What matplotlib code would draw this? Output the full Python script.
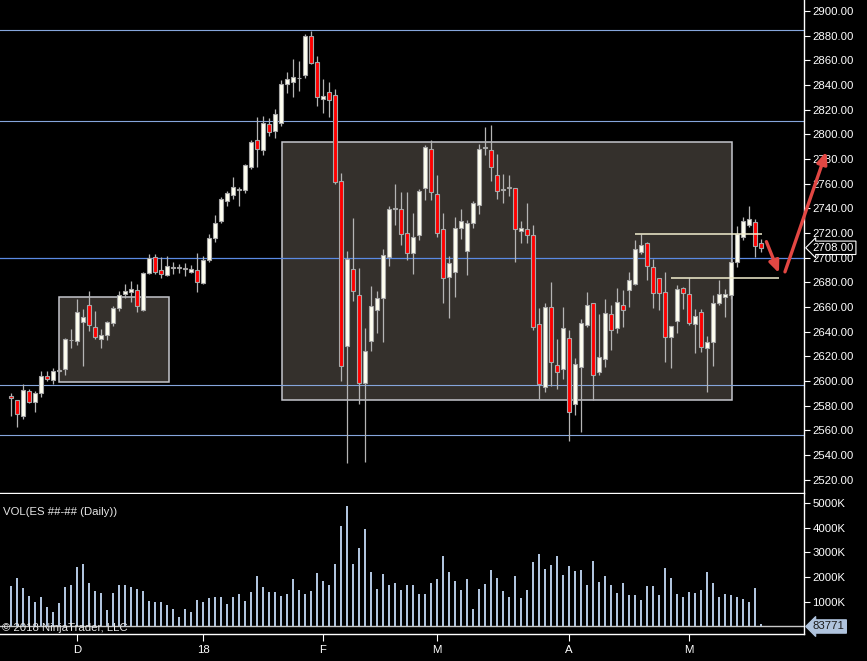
import numpy as np
import matplotlib
matplotlib.use("Agg")
import matplotlib.pyplot as plt
from matplotlib.patches import Rectangle
from matplotlib.transforms import blended_transform_factory

plt.rcParams['font.family'] = ['Liberation Sans', 'DejaVu Sans']

# daily ES bars (Nov 2017 - May 2018)
opens = [2587.75, 2584.25, 2572, 2591.5, 2583.25, 2590, 2604, 2600.5, 2608.5, 2610,
         2633, 2632.75, 2648, 2662, 2643.5, 2634.25, 2637.5, 2647.25, 2659.5, 2670.75,
         2672.5, 2673.75, 2657.5, 2687.75, 2700.25, 2689.75, 2686.25, 2691.75, 2691.75, 2692,
         2688.5, 2689.75, 2679.75, 2698.5, 2715.75, 2730, 2746.25, 2751, 2755, 2755,
         2773.75, 2795, 2787.5, 2808, 2802.5, 2809, 2840.5, 2842.25, 2845.5, 2847.75,
         2879.5, 2858.5, 2828.5, 2834, 2831.5, 2762, 2628.5, 2690.5, 2669.5, 2598.5,
         2632.75, 2657.75, 2667.5, 2700.25, 2739.5, 2739.25, 2719.75, 2703.5, 2718, 2756.25,
         2788.5, 2751.25, 2723, 2684, 2688, 2723.75, 2705, 2728.5, 2742.5, 2789,
         2787, 2766.75, 2755, 2757.5, 2756.25, 2721.25, 2723, 2718, 2646, 2595,
         2659.75, 2612.75, 2609.5, 2634.5, 2581, 2611.5, 2645.25, 2663, 2607, 2617.5,
         2654, 2642.75, 2661.5, 2673.5, 2679, 2704.5, 2711.5, 2692.25, 2683.25, 2672,
         2635.5, 2648.5, 2675.25, 2670.25, 2646, 2655.75, 2626.5, 2631.5, 2663, 2668,
         2669.5, 2696.25, 2716.5, 2726.75, 2728.75, 2711.5]
highs = [2590, 2585, 2597.5, 2593.5, 2591.5, 2608, 2608, 2610.5, 2610.5, 2635,
         2642, 2666.5, 2658.5, 2673, 2656.75, 2642, 2648.5, 2660.75, 2673, 2678.5,
         2681, 2678.5, 2688.25, 2703, 2703, 2700.5, 2701.25, 2696.5, 2694.75, 2696,
         2694, 2703.75, 2701.25, 2719, 2734.25, 2749.25, 2754, 2765.5, 2757, 2776,
         2795.5, 2814, 2815, 2813, 2820.5, 2843.75, 2850.25, 2860.75, 2859.25, 2881.25,
         2883.5, 2863.25, 2844.5, 2842.5, 2836.75, 2768.5, 2705.5, 2732, 2691.25, 2642.75,
         2676.75, 2672.75, 2706.75, 2742, 2759.75, 2753.25, 2753.25, 2736.25, 2755.75, 2791.25,
         2795, 2767, 2736.25, 2701.25, 2732.75, 2739.5, 2730.5, 2745.75, 2792, 2806,
         2807.5, 2784, 2767.75, 2767, 2756.5, 2729.75, 2744.25, 2726.5, 2659, 2663,
         2680.25, 2634, 2660, 2641.5, 2618.5, 2650, 2672, 2663.25, 2654, 2666.5,
         2661.5, 2675.5, 2673.5, 2688.5, 2714, 2719, 2712.5, 2698.75, 2683.5, 2688,
         2644.5, 2677.5, 2676, 2683.25, 2658, 2658, 2636.25, 2669.5, 2681.5, 2674.5,
         2700.25, 2725.5, 2733, 2741.5, 2731, 2715]
lows = [2572, 2563, 2569.5, 2582, 2575, 2586.75, 2600, 2597.25, 2607, 2604.75,
        2626.75, 2629.25, 2612.5, 2640.5, 2634.25, 2627, 2633.5, 2644.5, 2656.75, 2667.5,
        2664.25, 2656.25, 2656.75, 2687, 2687, 2683.5, 2684.75, 2686.75, 2687.75, 2685.5,
        2687.75, 2672.5, 2679, 2696.75, 2713, 2728.5, 2741.5, 2747.5, 2741.5, 2752.75,
        2771.5, 2773.75, 2783.5, 2798.5, 2796.75, 2807, 2833.75, 2830.5, 2835.5, 2846,
        2856.75, 2823, 2817.25, 2814, 2759.75, 2600, 2533.75, 2664.75, 2581.25, 2534.5,
        2624.5, 2639.25, 2632, 2693.5, 2726.75, 2710.25, 2698.5, 2687, 2714.25, 2746.75,
        2746.75, 2716.5, 2663.5, 2651.25, 2668.5, 2715, 2686, 2724.25, 2735.5, 2783.25,
        2762, 2747.5, 2744.25, 2750, 2696.75, 2712, 2712, 2641.5, 2585.75, 2590.75,
        2595.75, 2593.25, 2601.5, 2551.5, 2572.75, 2559, 2644, 2584.5, 2604.5, 2611,
        2625, 2638.75, 2644, 2660.25, 2677.5, 2702.75, 2681.5, 2659.5, 2657.25, 2615.75,
        2610.75, 2639.25, 2658, 2645.25, 2623, 2623.75, 2590.75, 2612, 2661.5, 2652.25,
        2666.25, 2692.75, 2714, 2724.5, 2700.25, 2704.5]
closes = [2586, 2573, 2592.5, 2583.25, 2590, 2604, 2602, 2608.5, 2609.25, 2634,
          2633.5, 2656, 2651.5, 2645.5, 2636, 2637, 2647.5, 2659, 2669.5, 2673,
          2674.25, 2661, 2687.25, 2699.5, 2688.5, 2686.5, 2693.25, 2692, 2692, 2690.5,
          2690.5, 2680.5, 2698, 2715.75, 2728.5, 2747.25, 2752.25, 2757, 2755.25, 2775,
          2793.5, 2787.75, 2809, 2801.5, 2816.25, 2840.5, 2844.5, 2846.25, 2845.75, 2879.75,
          2858, 2830, 2830.75, 2827.5, 2761.5, 2612.5, 2699.25, 2673.25, 2598, 2624,
          2660.5, 2667, 2702, 2739.25, 2740, 2719, 2703.5, 2716.5, 2754, 2789.5,
          2753, 2719.75, 2683.25, 2695.5, 2723.75, 2729.5, 2728.5, 2744, 2788.5, 2789.5,
          2773.25, 2753.75, 2755.25, 2756.25, 2723, 2723.75, 2718, 2643.5, 2597.25, 2659.75,
          2615.75, 2607, 2642.75, 2574.5, 2613.5, 2646.75, 2661.5, 2605.25, 2619.25, 2655,
          2641, 2663.75, 2657.25, 2681.5, 2706.75, 2710, 2693, 2671, 2671, 2635.5,
          2644.25, 2674.5, 2671, 2646.75, 2652.5, 2627.25, 2631.5, 2663, 2670.25, 2670.25,
          2696.25, 2719, 2729.5, 2731, 2709.25, 2708]
volume_k = [1620, 1950, 1540, 1220, 1010, 1180, 770, 570, 970, 1580,
            1700, 2390, 2550, 1780, 1420, 1340, 650, 1340, 1660, 1700,
            1580, 1500, 1420, 1050, 1010, 1010, 890, 690, 400, 690,
            570, 1090, 1010, 1140, 1180, 1180, 930, 1180, 1300, 1050,
            1380, 2030, 1580, 1380, 1380, 1220, 1300, 1910, 1460, 1300,
            1420, 2150, 1860, 1660, 2550, 4050, 4860, 2510, 3160, 3930,
            2190, 1500, 2110, 1700, 1780, 1460, 1700, 1660, 1300, 1300,
            1760, 1920, 2850, 2200, 1840, 1470, 1920, 700, 1510, 1720,
            2280, 1960, 1430, 1190, 2040, 1150, 1470, 2610, 2930, 2320,
            2490, 2850, 2080, 2450, 2240, 2280, 1680, 2650, 1800, 2040,
            1680, 1350, 1760, 1270, 1270, 1070, 1640, 1640, 1270, 2360,
            1960, 1310, 1190, 1390, 1350, 1470, 2200, 1760, 1190, 1310,
            1270, 1190, 1110, 990, 1550, 83.771]

month_ticks = [12, 33, 53, 72, 94, 114]
month_labels = ['D', '18', 'F', 'M', 'A', 'M']

# drawn objects on the chart (bar index / price)
level_lines = [2884.5, 2810.75, 2596.5, 2556.25]
pivot_line = 2700
zones = [(9.05, 27.3, 2599.5, 2667.75), (46.2, 121.2, 2584.5, 2793.5)]
shelf_lines = [(105, 126.1, 2719), (111.05, 129, 2683.25)]
arrows = [((126.9, 2713), (129, 2687.5)), ((130, 2688.5), (136.9, 2786))]

W, H = 867, 661
fig = plt.figure(figsize=(W / 100, H / 100), dpi=100, facecolor='black')


def px_axes(left, top, right, bottom):
    a = fig.add_axes([left / W, 1 - bottom / H, (right - left) / W, (bottom - top) / H])
    a.set_facecolor('black')
    return a


ax = px_axes(0, 0, 804, 493)
axv = px_axes(0, 494, 804, 634)

x = np.arange(1, len(opens) + 1)
o, h, l, c = map(np.array, (opens, highs, lows, closes))

for a in (ax, axv):
    a.set_xlim(-0.833, 133.17)
    for s in ('top', 'left'):
        a.spines[s].set_visible(False)
    for s in ('right', 'bottom'):
        a.spines[s].set_color('white')
        a.spines[s].set_linewidth(1)
    a.yaxis.tick_right()

ax.set_ylim(2509.2, 2908.9)
axv.set_ylim(-304, 5364)

# zones and levels
for x0, x1, lo, hi in zones:
    ax.add_patch(Rectangle((x0, lo), x1 - x0, hi - lo, facecolor='#34302c',
                           edgecolor='#c4c6cc', linewidth=1.1, zorder=1))
for lvl in level_lines:
    ax.axhline(lvl, color='#86a6dc', lw=0.8, zorder=2)
ax.axhline(pivot_line, color='#5b8ae4', lw=0.9, zorder=2)

# candles
ax.vlines(x, l, h, color='#b4b4b4', lw=0.9, zorder=3)
up = c >= o
body = np.maximum(np.abs(c - o), 0.3)
ax.bar(x[up], body[up], bottom=np.minimum(o, c)[up], width=0.68,
       color='#fffff0', edgecolor='#a8a8a8', linewidth=0.8, zorder=4)
ax.bar(x[~up], body[~up], bottom=np.minimum(o, c)[~up], width=0.68,
       color='#ff0000', edgecolor='#a8a8a8', linewidth=0.8, zorder=4)

for x0, x1, lvl in shelf_lines:
    ax.hlines(lvl, x0, x1, color='#f2eecf', lw=1.1, zorder=5)

for start, tip in arrows:
    ann = ax.annotate('', xy=tip, xytext=start, annotation_clip=False,
                      arrowprops=dict(arrowstyle='-|>,head_length=0.7,head_width=0.3',
                                      color='#e24743', lw=2.4, shrinkA=0, shrinkB=0),
                      zorder=6)
    ann.arrow_patch.set_clip_on(False)

# price axis
yt = np.arange(2520, 2901, 20)
ax.set_yticks(yt)
ax.set_yticklabels([f'{v:.2f}' for v in yt])
ax.tick_params(axis='y', colors='white', direction='out', length=4, width=0.8,
               labelsize=8.2, pad=2)
ax.set_xticks([])

tr = blended_transform_factory(ax.transAxes, ax.transData)
ax.text(1.011, closes[-1], f'{closes[-1]:.2f}', transform=tr, color='white',
        fontsize=8.2, ha='left', va='center', zorder=7,
        bbox=dict(boxstyle='larrow,pad=0.15', fc='black', ec='white', lw=0.8))

# volume panel
axv.bar(x, volume_k, width=0.33, color='#b0c4de', zorder=3)
axv.axhline(0, color='#c8c8c8', lw=1, zorder=2)
vt = [1000, 2000, 3000, 4000, 5000]
axv.set_yticks(vt)
axv.set_yticklabels([f'{v}K' for v in vt])
axv.tick_params(axis='y', colors='white', direction='out', length=4, width=0.8,
                labelsize=8.2, pad=2)
axv.set_xticks(month_ticks)
axv.set_xticklabels(month_labels)
axv.tick_params(axis='x', colors='white', direction='out', length=5, width=0.8,
                labelsize=8.2, pad=3)

trv = blended_transform_factory(axv.transAxes, axv.transData)
axv.text(1.011, 0, f'{round(volume_k[-1] * 1000)}', transform=trv, color='#1a1a1a',
         fontsize=8.2, ha='left', va='center', zorder=7,
         bbox=dict(boxstyle='larrow,pad=0.15', fc='#b0c4de', ec='#b0c4de', lw=0.8))

fig.text(3 / W, 1 - 512 / H, 'VOL(ES ##-## (Daily))', color='#e6e6e6',
         fontsize=8.2, ha='left', va='center')
fig.text(2 / W, 1 - 628 / H, '\u00a9 2018 NinjaTrader, LLC', color='#e6e6e6',
         fontsize=8.2, ha='left', va='center')

fig.savefig('out.png', dpi=100, facecolor='black')
